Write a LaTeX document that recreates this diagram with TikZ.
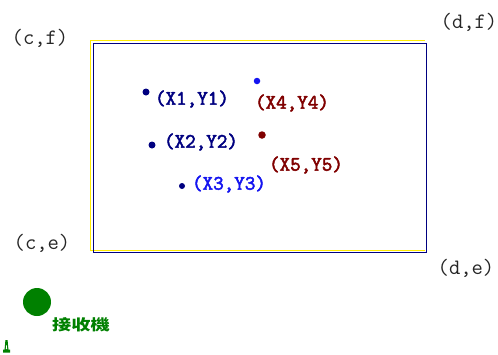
\documentclass[tikz,border=0pt]{standalone}
\usepackage{fontspec}
\newfontfamily\cornerfont{Latin Modern Mono}
\newfontfamily\labelfont{Latin Modern Mono}[FakeBold=2.5]
\newfontfamily\cjk{Noto Sans CJK TC}
\definecolor{navyc}{RGB}{0,0,128}
\definecolor{bluec}{RGB}{20,20,240}
\definecolor{redc}{RGB}{128,0,0}
\definecolor{greenc}{RGB}{0,128,0}
\definecolor{yellc}{RGB}{255,235,0}
\begin{document}
\begin{tikzpicture}[x=1pt,y=-1pt,
  corner/.style={font=\cornerfont\fontsize{22}{22}\selectfont, text=black!85, inner sep=0pt},
  pt/.style={font=\labelfont\fontsize{20.5}{20.5}\selectfont, inner sep=0pt},
  dot/.style={circle, inner sep=0pt, minimum size=#1},
]
\useasboundingbox (0,0) rectangle (498,354);
% frame
\draw[yellc, line width=1.4pt] (90.6,251) -- (90.6,40.6) -- (425,40.6);
\draw[yellc, line width=1.4pt] (91,250.6) -- (425,250.6);
\draw[navyc, line width=1pt] (93,43) rectangle (426.5,252.6);
% corner labels
\node[corner] (cf) at (40,38) {(c,f)};
\node[corner] (df) at (469,22) {(d,f)};
\node[corner] (ce) at (42,243) {(c,e)};
\node[corner] (de) at (466,268) {(d,e)};
% points
\node[dot=7pt, fill=navyc] (p1) at (146,92) {};
\node[pt, text=navyc] (l1) at (192,99) {(X1,Y1)};
\node[dot=7pt, fill=navyc] (p2) at (152,145) {};
\node[pt, text=navyc] (l2) at (201,142) {(X2,Y2)};
\node[dot=6pt, fill=navyc] (p3) at (182,186) {};
\node[pt, text=bluec] (l3) at (229,184) {(X3,Y3)};
\node[dot=6.5pt, fill=bluec] (p4) at (257,81) {};
\node[pt, text=redc] (l4) at (292,103) {(X4,Y4)};
\node[dot=7.5pt, fill=redc] (p5) at (262,135) {};
\node[pt, text=redc] (l5) at (306,165) {(X5,Y5)};
% receiver
\node[dot=28pt, fill=greenc] (rx) at (37,302) {};
\node[inner sep=0pt, text=greenc, font=\cjk\bfseries\fontsize{15}{15}\selectfont, xscale=1.28] (rxl) at (81,325) {接收機};
% antenna glyph
\fill[greenc] (3,352.5) -- (3,349.5) -- (4.6,349.5) -- (5.4,340) -- (7.6,340) -- (8.4,349.5) -- (10,349.5) -- (10,352.5) -- cycle;
\fill[white] (5.9,349) -- (6.3,345) -- (6.7,345) -- (7.1,349) -- cycle;
\end{tikzpicture}
\end{document}
